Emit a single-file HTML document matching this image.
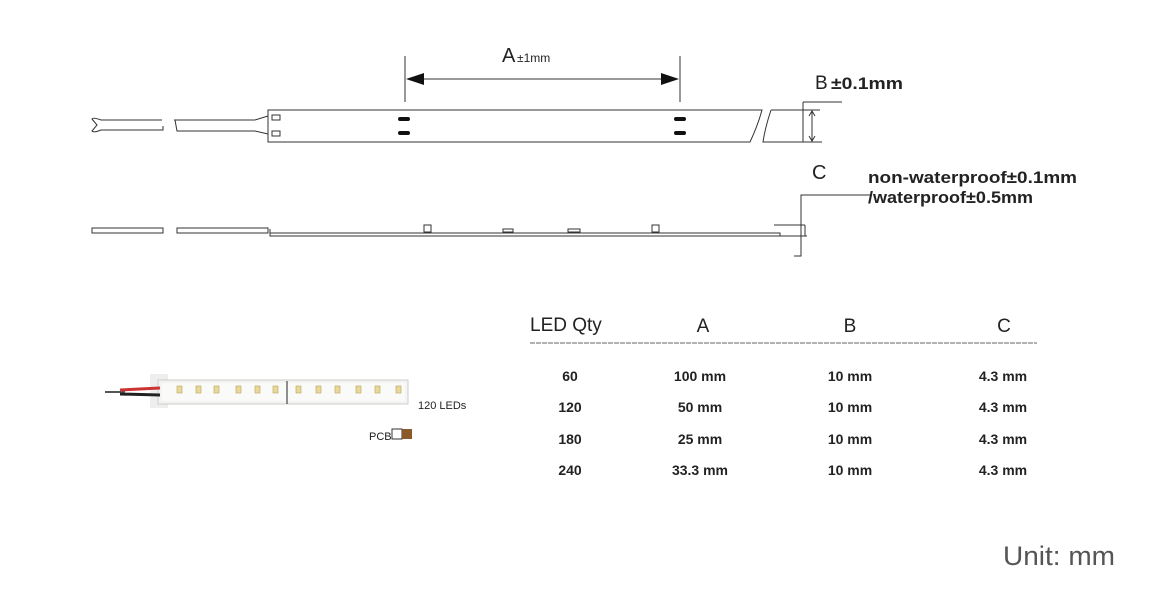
<!DOCTYPE html>
<html><head><meta charset="utf-8"><style>
body{margin:0;background:#fff;}
svg{display:block;font-family:"Liberation Sans",sans-serif;}
</style></head><body>
<svg width="1165" height="595" viewBox="0 0 1165 595" xmlns="http://www.w3.org/2000/svg">
<g fill="none" stroke="#333" stroke-width="1">
<path d="M162,120 L101,120 Q93,117 92,119 L97,125 L92,131 Q94,133 101,130 L163,130 L163,126"/>
<path d="M174,120 L255,120 L268,116"/>
<path d="M175,120 L177,131 L255,131 L268,134"/>
<path d="M268,110 L762,110 Q758,125 750,142 L268,142 Z"/>
<path d="M771,110 L820,110 M771,110 Q765,128 763,142 L822,142"/>
<rect x="272" y="115" width="8" height="5"/>
<rect x="272" y="131" width="8" height="5"/>
<path d="M803,102 L842,102 M803,102 L803,142 M812,112 L812,140"/>
<path d="M809,116 L812,111 L815,116 M809,136 L812,141 L815,136"/>
<path d="M405,56 L405,102 M680,56 L680,102 M420,79 L665,79"/>
<rect x="92" y="228" width="71" height="5"/>
<rect x="177" y="228" width="91" height="5"/>
<path d="M270,229 L270,236 L780,236 L780,233 L270,233"/>
<path d="M270,229 L270,233"/>
<rect x="424" y="225" width="7" height="7"/>
<rect x="503" y="229" width="10" height="3"/>
<rect x="568" y="229" width="12" height="3"/>
<rect x="652" y="225" width="7" height="7"/>
<path d="M774,225 L805,225 M775,236 L807,236 M805,225 L805,236"/>
<path d="M870,195 L801,195 L801,256 L794,256"/>
</g>
<polygon points="406,79 424,73 424,85" fill="#111"/>
<polygon points="679,79 661,73 661,85" fill="#111"/>
<g fill="#111">
<rect x="398" y="117" width="12" height="4" rx="2"/>
<rect x="398" y="131" width="12" height="4" rx="2"/>
<rect x="674" y="117" width="12" height="4" rx="2"/>
<rect x="674" y="131" width="12" height="4" rx="2"/>
</g>
<text x="502" y="62" font-size="20" fill="#222">A</text>
<text x="517" y="62" font-size="12" fill="#222">±1mm</text>
<text x="815" y="89" font-size="19" fill="#222">B</text>
<text x="831" y="89" font-size="17" fill="#222" font-weight="bold" textLength="72" lengthAdjust="spacingAndGlyphs">±0.1mm</text>
<text x="812" y="179" font-size="20" fill="#222">C</text>
<text x="868" y="183" font-size="17" fill="#222" font-weight="bold" textLength="209" lengthAdjust="spacingAndGlyphs">non-waterproof±0.1mm</text>
<text x="868" y="203" font-size="17" fill="#222" font-weight="bold" textLength="165" lengthAdjust="spacingAndGlyphs">/waterproof±0.5mm</text>
<rect x="150" y="374" width="18" height="34" fill="#eee"/>
<rect x="158" y="380" width="250" height="24" fill="#f4f4f2" stroke="#ccc"/>
<rect x="162" y="383" width="243" height="18" fill="#fafaf8"/>
<path d="M105,392 L125,392" stroke="#555" stroke-width="2"/>
<path d="M120,390 L160,388" stroke="#c33" stroke-width="3"/>
<path d="M120,394 L160,395" stroke="#222" stroke-width="3"/>
<line x1="287" y1="381" x2="287" y2="404" stroke="#222"/>
<g fill="#e8d89a" stroke="#b9a55e" stroke-width="0.6">
<rect x="177" y="386" width="5" height="7"/><rect x="196" y="386" width="5" height="7"/><rect x="214" y="386" width="5" height="7"/>
<rect x="236" y="386" width="5" height="7"/><rect x="255" y="386" width="5" height="7"/><rect x="273" y="386" width="5" height="7"/>
<rect x="296" y="386" width="5" height="7"/><rect x="316" y="386" width="5" height="7"/><rect x="335" y="386" width="5" height="7"/>
<rect x="356" y="386" width="5" height="7"/><rect x="375" y="386" width="5" height="7"/><rect x="396" y="386" width="5" height="7"/>
</g>
<text x="418" y="409" font-size="11" fill="#222">120 LEDs</text>
<text x="369" y="440" font-size="11" fill="#222">PCB</text>
<rect x="392" y="429" width="10" height="10" fill="#fff" stroke="#333"/>
<rect x="402" y="429" width="10" height="10" fill="#8a5a2b"/>
<g fill="#222" font-size="19">
<text x="530" y="331">LED Qty</text>
<text x="703" y="332" text-anchor="middle">A</text>
<text x="850" y="332" text-anchor="middle">B</text>
<text x="1004" y="332" text-anchor="middle">C</text>
</g>
<line x1="530" y1="343" x2="1037" y2="343" stroke="#999" stroke-width="1.5" stroke-dasharray="5,1"/>
<g fill="#222" font-size="14" font-weight="bold" text-anchor="middle">
<text x="570" y="381">60</text><text x="700" y="381">100 mm</text><text x="850" y="381">10  mm</text><text x="1003" y="381">4.3  mm</text>
<text x="570" y="412">120</text><text x="700" y="412">50  mm</text><text x="850" y="412">10  mm</text><text x="1003" y="412">4.3  mm</text>
<text x="570" y="444">180</text><text x="700" y="444">25  mm</text><text x="850" y="444">10  mm</text><text x="1003" y="444">4.3  mm</text>
<text x="570" y="475">240</text><text x="700" y="475">33.3 mm</text><text x="850" y="475">10  mm</text><text x="1003" y="475">4.3  mm</text>
</g>
<text x="1003" y="565" font-size="27" fill="#555" textLength="112" lengthAdjust="spacingAndGlyphs">Unit: mm</text>
</svg>
</body></html>
